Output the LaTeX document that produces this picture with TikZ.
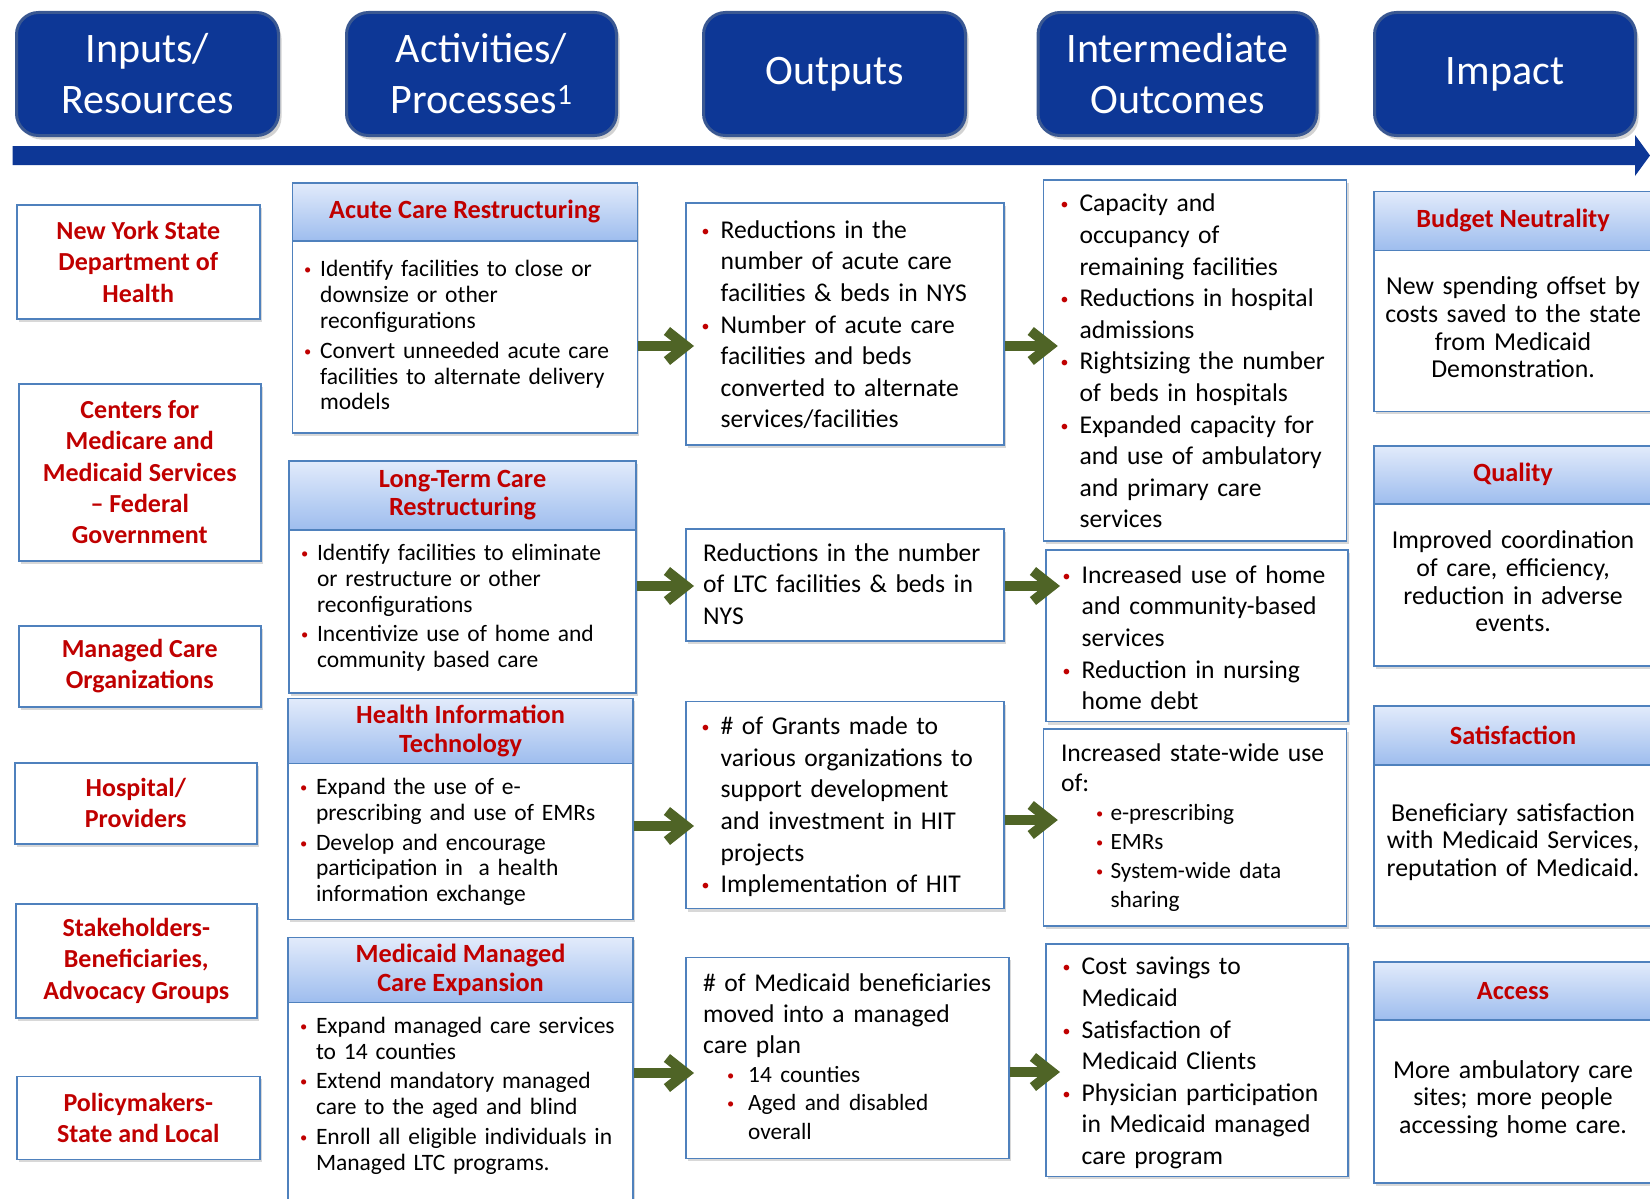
\documentclass[tikz,border=0pt]{standalone}
\usepackage{fontspec}
\setmainfont{Carlito}
\usetikzlibrary{arrows.meta,shadows,calc}

% colours
\definecolor{phaseblue}{RGB}{13,55,150}
\definecolor{phaseedge}{RGB}{58,88,146}
\definecolor{boxedge}{RGB}{79,129,189}
\definecolor{titlered}{RGB}{192,0,0}
\definecolor{bandtop}{RGB}{226,235,251}
\definecolor{bandbottom}{RGB}{158,189,238}
\definecolor{flowgreen}{RGB}{79,100,38}

% fonts
\newcommand{\phasefont}{\fontsize{42}{51}\selectfont}
\newcommand{\sourcefont}{\bfseries\fontsize{26}{31.4}\selectfont}
\newcommand{\bandfont}{\bfseries\fontsize{26.3}{28.4}\selectfont}
\newcommand{\actfont}{\fontsize{23.5}{25.8}\selectfont}
\newcommand{\cardfont}{\fontsize{25.6}{31.6}\selectfont}
\newcommand{\subfont}{\fontsize{23.3}{28.4}\selectfont}
\newcommand{\impactfont}{\fontsize{25.8}{27.7}\selectfont}

% bullet lists
\newlength{\bulhang}
\setlength{\bulhang}{20pt}
\newcommand{\bulletmark}{\textcolor{titlered}{\raisebox{2pt}{\scalebox{.62}{\textbullet}}}}
\newcommand{\bul}[1]{\par\noindent\hangindent=\bulhang\hangafter=1\hbox to \bulhang{\hskip1.5pt\bulletmark\hfil}#1\par}
\newcommand{\subbul}[3]{\par\noindent\hangindent=\dimexpr#1+#2\relax\hangafter=1\hskip#1\hbox to #2{\hskip1.5pt\bulletmark\hfil}#3\par}

\tikzset{
  phase/.style={draw=phaseedge, line width=3pt, fill=phaseblue, rounded corners=22pt,
    text=white, font=\phasefont, align=center, anchor=north west,
    drop shadow={shadow xshift=3pt, shadow yshift=-4pt, opacity=.35}},
  card/.style={draw=boxedge, line width=1.5pt, fill=white, anchor=north west,
    drop shadow={shadow xshift=2pt, shadow yshift=-3pt, opacity=.3}},
  source/.style={card, text=titlered, font=\sourcefont, align=center},
  band/.style={draw=boxedge, line width=1.5pt, top color=bandtop, bottom color=bandbottom,
    text=titlered, font=\bandfont, align=center, anchor=north west, inner sep=0pt},
  cardtxt/.style={text width=420, font=\cardfont, align=left, inner sep=0pt, anchor=west,
    execute at begin node={\setlength{\bulhang}{20.5pt}}},
  acttxt/.style={text width=420, font=\actfont, align=left, inner sep=0pt, anchor=west,
    execute at begin node={\setlength{\bulhang}{17.5pt}\setlength{\parskip}{4pt}}},
  imptxt/.style={text width=320, font=\impactfont, align=center, inner sep=0pt},
  flow/.style={draw=flowgreen, line width=10pt,
    -{Straight Barb[length=19pt,width=30pt,line width=10pt]}},
}

\begin{document}
\begin{tikzpicture}[x=1pt, y=-1pt]
  \useasboundingbox (0,0) rectangle (1650,1199);
  \clip (0,0) rectangle (1650,1199);
  \fill[white] (0,0) rectangle (1650,1199);

  % Phase headers
  \node[phase, minimum width=262, minimum height=123] (inputs) at (15,11) {Inputs/\\Resources};
  \node[phase, minimum width=270, minimum height=123] (activities) at (345,11) {Activities/\\Processes\textsuperscript{1}};
  \node[phase, minimum width=262, minimum height=123] (outputs) at (702,11) {Outputs};
  \node[phase, minimum width=279, minimum height=123] (intermediate) at (1036.5,11) {Intermediate\\Outcomes};
  \node[phase, minimum width=261, minimum height=123] (impact) at (1373,11) {Impact};

  % Timeline bar
  \fill[phaseblue] (12.6,146) -- (1635,146) -- (1635,135) -- (1650,155.5)
    -- (1635,176) -- (1635,165) -- (12.6,165) -- cycle;

  % Inputs / resources
  \node[source, minimum width=243, minimum height=114] (nysdoh) at (16,204) {New York State\\Department of\\Health};
  \node[source, minimum width=242, minimum height=177] (cms) at (18,383) {Centers for\\Medicare and\\Medicaid Services\\– Federal\\Government};
  \node[source, minimum width=242, minimum height=81] (mco) at (18,625) {Managed Care\\Organizations};
  \node[source, minimum width=242, minimum height=81] (hosp) at (14,762) {Hospital/\\Providers};
  \node[source, minimum width=241, minimum height=114] (stake) at (15,903) {Stakeholders-\\Beneficiaries,\\Advocacy Groups};
  \node[source, minimum width=243, minimum height=83] (policy) at (16,1075.5) {Policymakers-\\State and Local};

  % Activities / processes
  \node[card, minimum width=345, minimum height=250] (act1) at (291.5,182) {};
  \node[band, minimum width=345, minimum height=58] (act1h) at (act1.north west) {Acute Care Restructuring};
  \node[acttxt] (act1t) at ($(act1h.south west)!.5!(act1.south west)+(11,-9)$) {%
    \bul{Identify facilities to close or\newline downsize or other\newline reconfigurations}
    \bul{Convert unneeded acute care\newline facilities to alternate delivery\newline models}};

  \node[card, minimum width=347, minimum height=232] (act2) at (288.3,460) {};
  \node[band, minimum width=347, minimum height=69] (act2h) at (act2.north west) {Long-Term Care\\Restructuring};
  \node[acttxt] (act2t) at ($(act2h.south west)!.5!(act2.south west)+(11,-11)$) {%
    \bul{Identify facilities to eliminate\newline or restructure or other\newline reconfigurations}
    \bul{Incentivize use of home and\newline community based care}};

  \node[card, minimum width=345, minimum height=221] (act3) at (287.3,697.7) {};
  \node[band, minimum width=345, minimum height=65] (act3h) at (act3.north west) {Health Information\\Technology};
  \node[acttxt] (act3t) at ($(act3h.south west)!.5!(act3.south west)+(11,-7)$) {%
    \bul{Expand the use of e-\newline prescribing and use of EMRs}
    \bul{Develop and encourage\newline participation in\ \ a health\newline information exchange}};

  \node[card, minimum width=345, minimum height=290] (act4) at (287.3,936.5) {};
  \node[band, minimum width=345, minimum height=65] (act4h) at (act4.north west) {Medicaid Managed\\Care Expansion};
  \node[acttxt] (act4t) at ($(act4h.south west)+(11,86)$) {%
    \bul{Expand managed care services\newline to 14 counties}
    \bul{Extend mandatory managed\newline care to the aged and blind}
    \bul{Enroll all eligible individuals in\newline Managed LTC programs.}};

  % Outputs
  \node[card, minimum width=318, minimum height=242] (out1) at (685,202) {};
  \node[cardtxt] (out1t) at ($(out1.west)+(15,-6)$) {%
    \bul{Reductions in the\newline number of acute care\newline facilities \& beds in NYS}
    \bul{Number of acute care\newline facilities and beds\newline converted to alternate\newline services/facilities}};
  \node[card, minimum width=318, minimum height=112] (out2) at (685,528.3) {};
  \node[cardtxt] (out2t) at ($(out2.west)+(18,-1)$) {%
    Reductions in the number\newline of LTC facilities \& beds in\newline NYS};
  \node[card, minimum width=318, minimum height=207] (out3) at (685,700.8) {};
  \node[cardtxt] (out3t) at ($(out3.west)+(15,-5)$) {%
    \bul{\# of Grants made to\newline various organizations to\newline support development\newline and investment in HIT\newline projects}
    \bul{Implementation of HIT}};
  \node[card, minimum width=323, minimum height=201] (out4) at (685,956.5) {};
  \node[cardtxt] (out4t) at ($(out4.west)+(18,-1)$) {%
    \noindent\fontsize{25.6}{31}\selectfont
    \# of Medicaid beneficiaries\newline moved into a managed\newline care plan\par
    \subfont
    \subbul{22.5pt}{22.5pt}{14 counties}
    \subbul{22.5pt}{22.5pt}{Aged and disabled\newline overall}};

  % Intermediate outcomes
  \node[card, minimum width=303, minimum height=361] (mid1) at (1042.8,179) {};
  \node[cardtxt] (mid1t) at ($(mid1.west)+(16,-6)$) {%
    \bul{Capacity and\newline occupancy of\newline remaining facilities}
    \bul{Reductions in hospital\newline admissions}
    \bul{Rightsizing the number\newline of beds in hospitals}
    \bul{Expanded capacity for\newline and use of ambulatory\newline and primary care\newline services}};
  \node[card, minimum width=302, minimum height=171.5] (mid2) at (1045,549.3) {};
  \node[cardtxt] (mid2t) at ($(mid2.west)+(16,-5)$) {%
    \bul{Increased use of home\newline and community-based\newline services}
    \bul{Reduction in nursing\newline home debt}};
  \node[card, minimum width=303, minimum height=197] (mid3) at (1042.8,728.2) {};
  \node[cardtxt] (mid3t) at ($(mid3.west)+(18,0)$) {%
    \noindent\fontsize{25.6}{30.5}\selectfont Increased state-wide use\newline of:\par
    \fontsize{23.3}{28.8}\selectfont
    \subbul{33.5pt}{16pt}{e-prescribing}
    \subbul{33.5pt}{16pt}{EMRs}
    \subbul{33.5pt}{16pt}{System-wide data\newline sharing}};
  \node[card, minimum width=302, minimum height=232.5] (mid4) at (1045,943) {};
  \node[cardtxt] (mid4t) at ($(mid4.west)+(16,-4)$) {%
    \bul{Cost savings to\newline Medicaid}
    \bul{Satisfaction of\newline Medicaid Clients}
    \bul{Physician participation\newline in Medicaid managed\newline care program}};

  % Impact
  \node[card, minimum width=278, minimum height=220] (imp1) at (1373.3,190.5) {};
  \node[band, minimum width=278, minimum height=59] (imp1h) at (imp1.north west) {Budget Neutrality};
  \node[imptxt] (imp1t) at ($(imp1h.south)!.5!(imp1.south)+(0,-4)$) {New spending offset by\\costs saved to the state\\from Medicaid\\Demonstration.};

  \node[card, minimum width=278, minimum height=220] (imp2) at (1373.3,445) {};
  \node[band, minimum width=278, minimum height=58] (imp2h) at (imp2.north west) {Quality};
  \node[imptxt] (imp2t) at ($(imp2h.south)!.5!(imp2.south)+(0,-4)$) {Improved coordination\\of care, efficiency,\\reduction in adverse\\events.};

  \node[card, minimum width=278, minimum height=220] (imp3) at (1373.3,705) {};
  \node[band, minimum width=278, minimum height=59] (imp3h) at (imp3.north west) {Satisfaction};
  \node[imptxt] (imp3t) at ($(imp3h.south)!.5!(imp3.south)+(0,-4)$) {Beneficiary satisfaction\\with Medicaid Services,\\reputation of Medicaid.};

  \node[card, minimum width=278, minimum height=221] (imp4) at (1373.3,961) {};
  \node[band, minimum width=278, minimum height=58] (imp4h) at (imp4.north west) {Access};
  \node[imptxt] (imp4t) at ($(imp4h.south)!.5!(imp4.south)+(0,-3)$) {More ambulatory care\\sites; more people\\accessing home care.};

  % Flow arrows between columns
  \foreach \n/\ya/\yb in {1/346/346, 2/586/586, 3/826/820, 4/1073/1072} {
    \draw[flow] (act\n.east |- 0,\ya) -- ($(out\n.west |- 0,\ya)+(9,0)$);
    \draw[flow] (out\n.east |- 0,\yb) -- ($(mid\n.west |- 0,\yb)+(15,0)$);
  }
\end{tikzpicture}
\end{document}
